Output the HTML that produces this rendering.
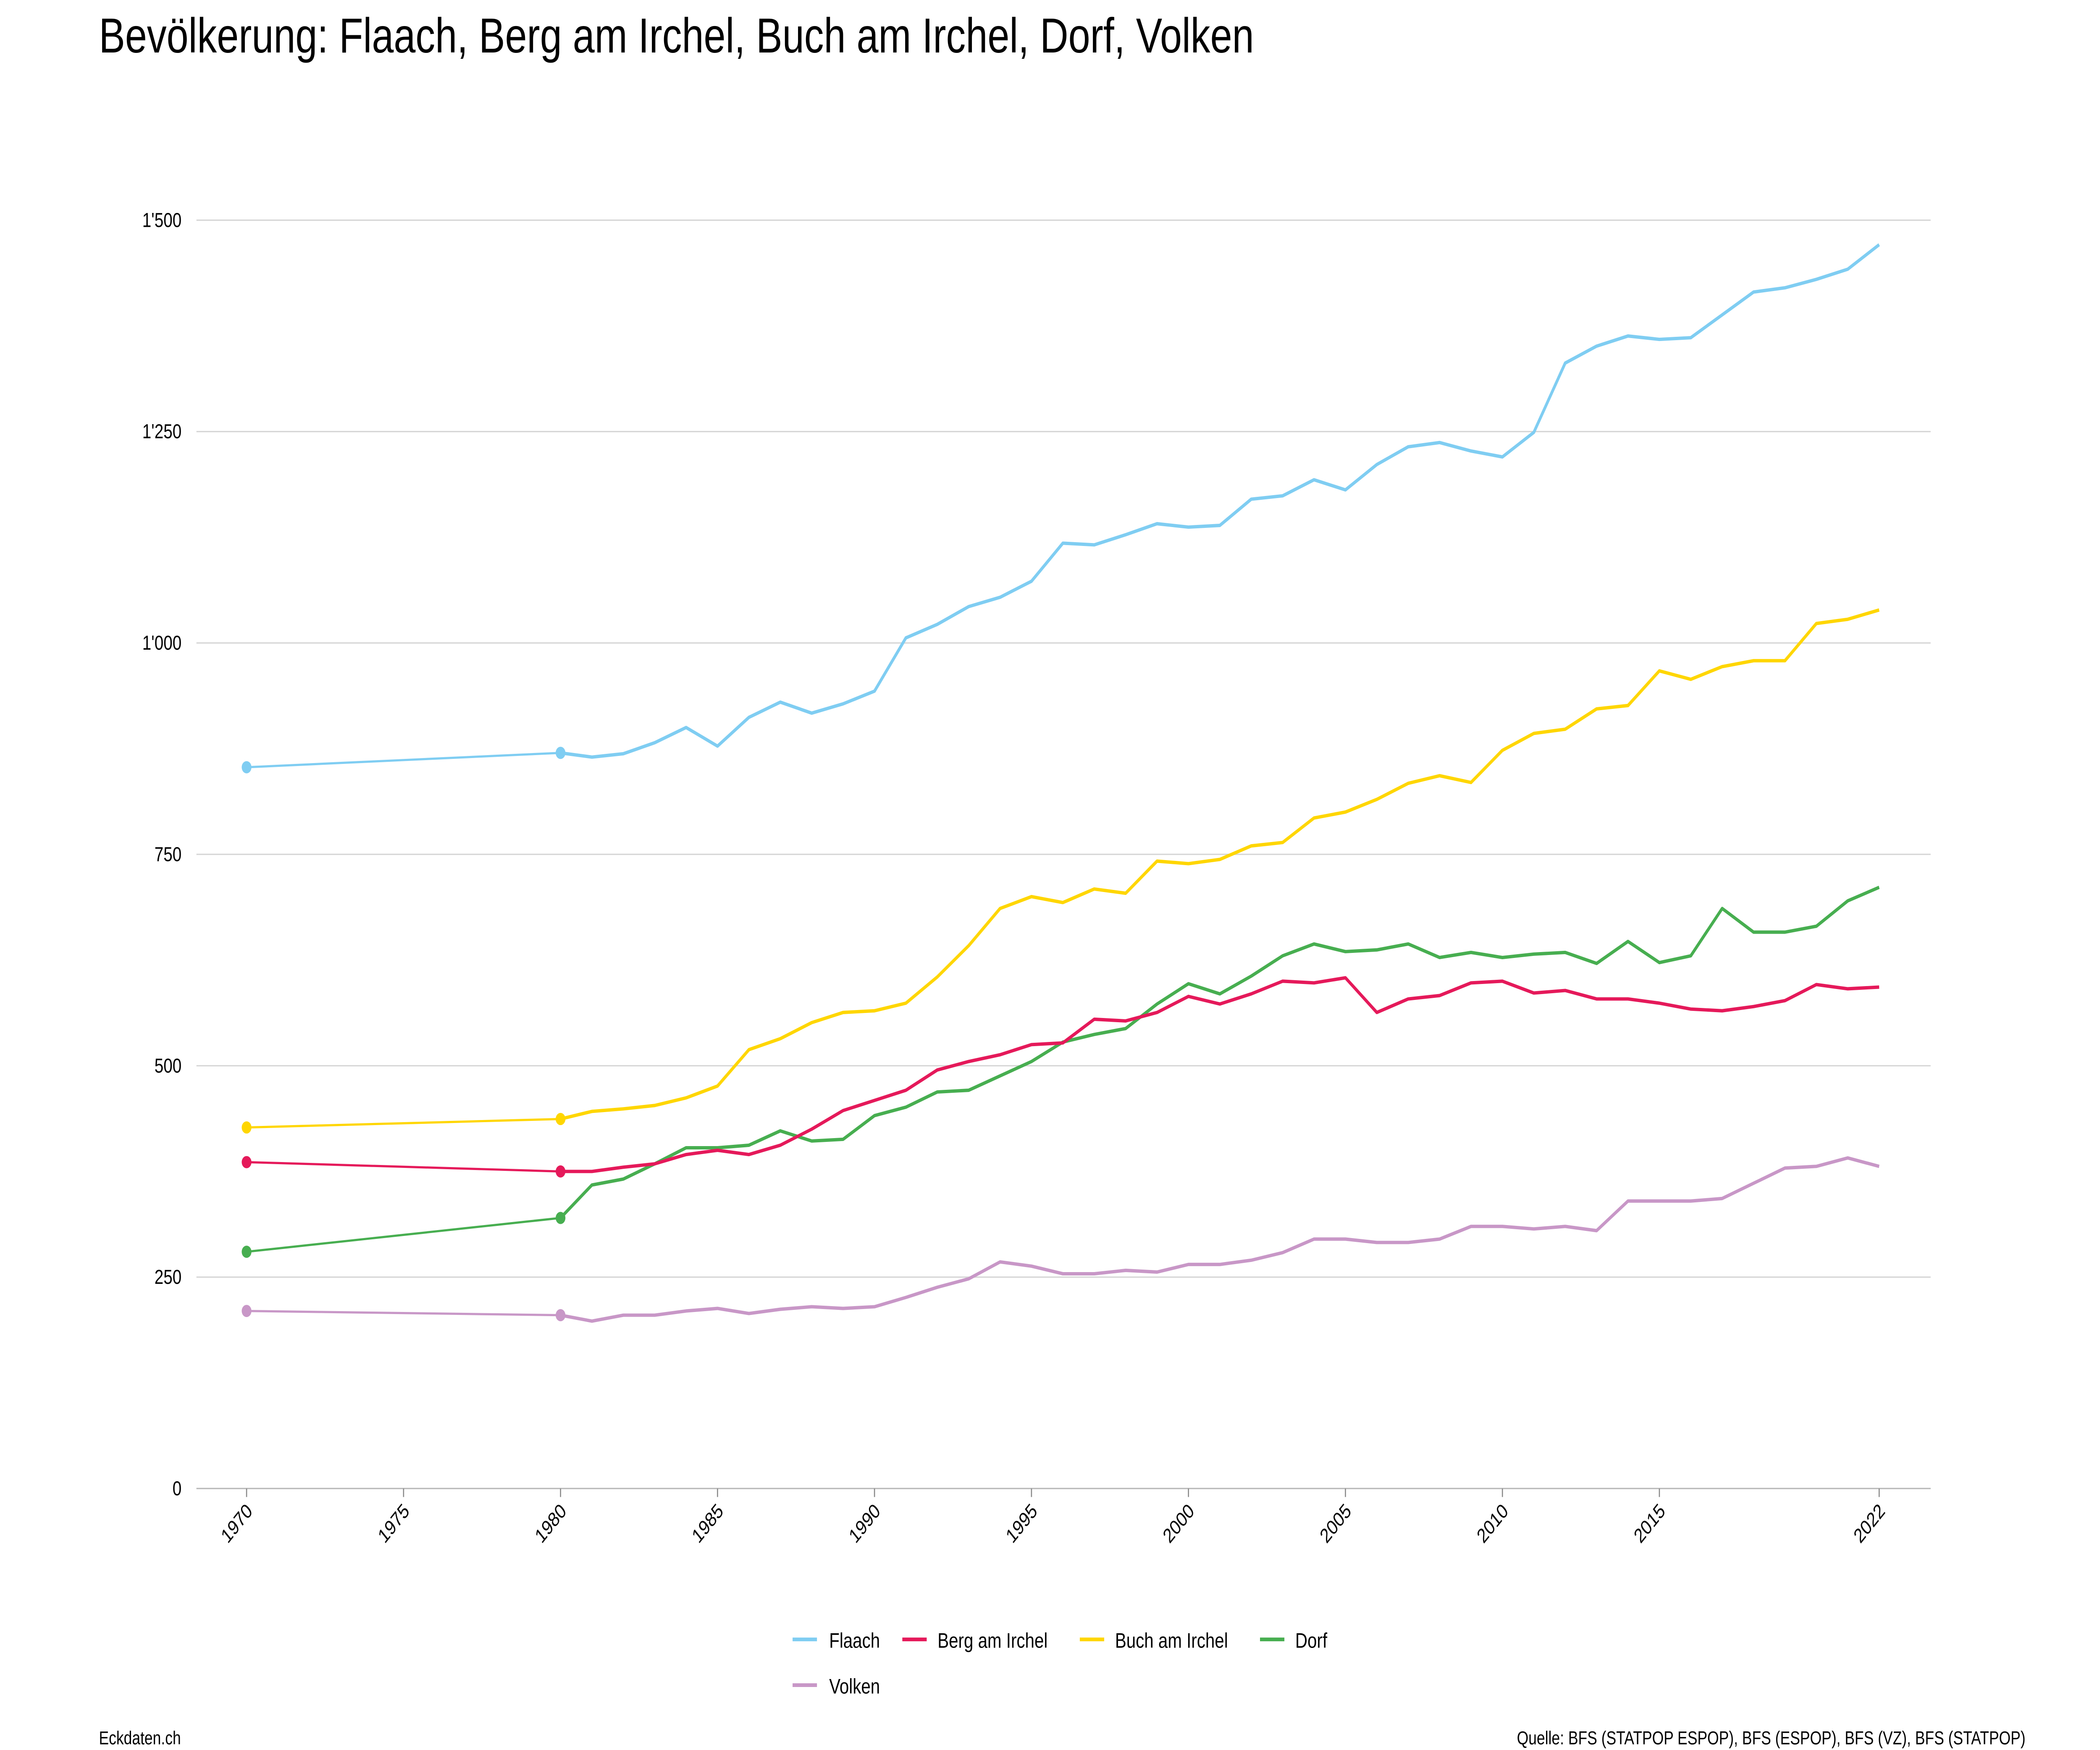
<!DOCTYPE html>
<html><head><meta charset="utf-8"><style>
html,body{margin:0;padding:0;background:#fff;overflow:hidden;width:100%;height:100%}
svg{display:block;width:100vw;height:100vh;position:absolute;left:0;top:0}
text{font-family:"Liberation Sans",sans-serif}
</style></head><body>
<svg id="s" viewBox="0 0 1550 1033.4" preserveAspectRatio="none" xmlns="http://www.w3.org/2000/svg">
<rect width="1550" height="1034" fill="#fff"/>
<text x="73" y="31" font-size="29" fill="#000">Bevölkerung: Flaach, Berg am Irchel, Buch am Irchel, Dorf, Volken</text>
<g id="grid" stroke="#d6d6d6" stroke-width="0.8"></g>
<g id="labels" font-size="12" fill="#000"></g>
<g id="lines" fill="none" stroke-linejoin="round"></g>
<g font-size="12.5" fill="#000">
<rect x="585" y="967" width="18" height="2.2" fill="#7fcdf2"/><text x="612" y="973">Flaach</text>
<rect x="666" y="967" width="18" height="2.2" fill="#e5195a"/><text x="692" y="973">Berg am Irchel</text>
<rect x="797" y="967" width="18" height="2.2" fill="#ffd600"/><text x="823" y="973">Buch am Irchel</text>
<rect x="930" y="967" width="18" height="2.2" fill="#47ae50"/><text x="956" y="973">Dorf</text>
<rect x="585" y="994" width="18" height="2.2" fill="#c897c7"/><text x="612" y="1000">Volken</text>
</g>
<text x="73" y="1030" font-size="11" fill="#000">Eckdaten.ch</text>
<text x="1495" y="1030" font-size="11" fill="#000" text-anchor="end">Quelle: BFS (STATPOP ESPOP), BFS (ESPOP), BFS (VZ), BFS (STATPOP)</text>
</svg>
<script>
const NS="http://www.w3.org/2000/svg";
const X=y=>182+(y-1970)*1205/52, Y=v=>879-v*0.49933;
function el(p,t,a,txt){const e=document.createElementNS(NS,t);for(const k in a)e.setAttribute(k,a[k]);if(txt!==undefined)e.textContent=txt;document.getElementById(p).appendChild(e);return e;}
const yl=["0","250","500","750","1'000","1'250","1'500"];
for(let i=0;i<=6;i++){const y=Y(i*250);el("grid","line",{x1:145,x2:1425,y1:y,y2:y});el("labels","text",{x:134,y:y+4,"text-anchor":"end"},yl[i]);}
el("grid","line",{x1:145,x2:1425,y1:879,y2:879,stroke:"#bbb"});
[1970,1975,1980,1985,1990,1995,2000,2005,2010,2015,2022].forEach(yr=>{const x=X(yr);el("grid","line",{x1:x,x2:x,y1:879,y2:884,stroke:"#888"});el("labels","text",{x:0,y:0,"text-anchor":"end",transform:`translate(${x+5},${893}) rotate(-45)`},String(yr));});
function ser(a,b,rest){const o=[];for(let y=1970;y<=1980;y++)o.push(a+(b-a)*(y-1970)/10);return o.concat(rest);}
const D={
"#7fcdf2":ser(853,870,[865,869,882,900,878,912,930,917,928,943,1006,1022,1043,1054,1073,1118,1116,1128,1141,1137,1139,1170,1174,1193,1181,1211,1232,1237,1227,1220,1249,1331,1351,1363,1359,1361,1388,1415,1420,1430,1442,1471]),
"#47ae50":ser(280,320,[359,366,384,403,403,406,423,411,413,441,451,469,471,488,505,528,537,544,573,597,585,606,630,644,635,637,644,628,634,628,632,634,621,647,622,630,686,658,658,665,695,711]),
"#ffd600":ser(427,437,[446,449,453,462,476,519,532,551,563,565,574,605,642,686,700,693,709,704,742,739,744,760,764,793,800,815,834,843,835,873,893,898,922,926,967,957,972,979,979,1023,1028,1039]),
"#e5195a":ser(386,375,[375,380,384,395,400,395,406,425,447,459,471,495,505,513,525,527,555,553,563,582,573,585,600,598,604,563,579,583,598,600,586,589,579,579,574,567,565,570,577,596,591,593]),
"#c897c7":ser(210,205,[198,205,205,210,213,207,212,215,213,215,226,238,248,268,263,254,254,258,256,265,265,270,279,295,295,291,291,295,310,310,307,310,305,340,340,340,343,361,379,381,391,381])};
for(const c in D){const v=D[c];
 const p1=v.slice(0,11).map((d,i)=>X(1970+i)+","+Y(d)).join(" ");
 const p2=v.slice(10).map((d,i)=>X(1980+i)+","+Y(d)).join(" ");
 el("lines","polyline",{points:p1,stroke:c,"stroke-width":1.3});
 el("lines","polyline",{points:p2,stroke:c,"stroke-width":2});
 el("lines","circle",{cx:X(1970),cy:Y(v[0]),r:3.6,fill:c,stroke:"none"});
 el("lines","circle",{cx:X(1980),cy:Y(v[10]),r:3.6,fill:c,stroke:"none"});}
</script>
</body></html>
